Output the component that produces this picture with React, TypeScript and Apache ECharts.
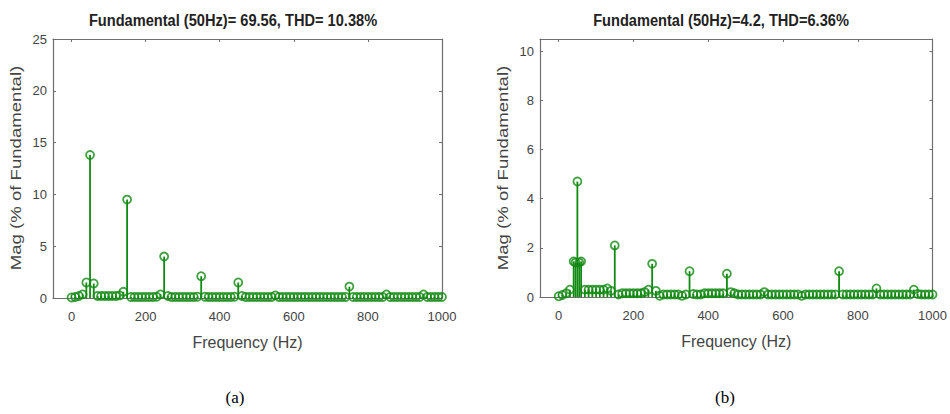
import React, { useEffect, useRef } from "react";
import * as echarts from "echarts";

const FREQ_A = [
  0, 10, 20, 30, 40, 50, 60, 70, 80, 90,
  100, 110, 120, 130, 140, 150, 160, 170, 180, 190,
  200, 210, 220, 230, 240, 250, 260, 270, 280, 290,
  300, 310, 320, 330, 340, 350, 360, 370, 380, 390,
  400, 410, 420, 430, 440, 450, 460, 470, 480, 490,
  500, 510, 520, 530, 540, 550, 560, 570, 580, 590,
  600, 610, 620, 630, 640, 650, 660, 670, 680, 690,
  700, 710, 720, 730, 740, 750, 760, 770, 780, 790,
  800, 810, 820, 830, 840, 850, 860, 870, 880, 890,
  900, 910, 920, 930, 940, 950, 960, 970, 980, 990, 1000,
];
const MAG_A = [
  0.05, 0.1, 0.2, 0.35, 1.5, 13.8, 1.4, 0.2, 0.2, 0.2,
  0.2, 0.2, 0.2, 0.25, 0.6, 9.5, 0.1, 0.1, 0.1, 0.1,
  0.1, 0.1, 0.1, 0.12, 0.35, 4.0, 0.2, 0.1, 0.1, 0.1,
  0.1, 0.1, 0.1, 0.1, 0.12, 2.1, 0.12, 0.1, 0.1, 0.1,
  0.1, 0.1, 0.1, 0.1, 0.12, 1.5, 0.2, 0.1, 0.1, 0.1,
  0.1, 0.1, 0.1, 0.1, 0.1, 0.25, 0.1, 0.1, 0.1, 0.1,
  0.1, 0.1, 0.1, 0.1, 0.1, 0.1, 0.1, 0.1, 0.1, 0.1,
  0.1, 0.1, 0.1, 0.1, 0.1, 1.1, 0.1, 0.1, 0.1, 0.1,
  0.1, 0.1, 0.1, 0.1, 0.1, 0.35, 0.1, 0.1, 0.1, 0.1,
  0.1, 0.1, 0.1, 0.1, 0.1, 0.35, 0.1, 0.1, 0.1, 0.1, 0.1,
];

const FREQ_B = [
  0, 10, 20, 30, 40, 45, 50, 55, 60, 70, 80, 90,
  100, 110, 120, 130, 140, 150, 160, 170, 180, 190,
  200, 210, 220, 230, 240, 250, 260, 270, 280, 290,
  300, 310, 320, 330, 340, 350, 360, 370, 380, 390,
  400, 410, 420, 430, 440, 450, 460, 470, 480, 490,
  500, 510, 520, 530, 540, 550, 560, 570, 580, 590,
  600, 610, 620, 630, 640, 650, 660, 670, 680, 690,
  700, 710, 720, 730, 740, 750, 760, 770, 780, 790,
  800, 810, 820, 830, 840, 850, 860, 870, 880, 890,
  900, 910, 920, 930, 940, 950, 960, 970, 980, 990, 1000,
];
const MAG_B = [
  0.03, 0.08, 0.15, 0.3, 1.45, 1.4, 4.7, 1.4, 1.45, 0.3, 0.3, 0.3,
  0.3, 0.3, 0.3, 0.35, 0.25, 2.1, 0.1, 0.15, 0.15, 0.15,
  0.15, 0.15, 0.15, 0.2, 0.3, 1.35, 0.25, 0.05, 0.1, 0.1,
  0.1, 0.1, 0.1, 0.05, 0.1, 1.05, 0.12, 0.1, 0.1, 0.15,
  0.15, 0.15, 0.15, 0.15, 0.15, 0.95, 0.2, 0.15, 0.1, 0.1,
  0.1, 0.1, 0.1, 0.1, 0.1, 0.2, 0.1, 0.1, 0.1, 0.1,
  0.1, 0.1, 0.1, 0.1, 0.1, 0.05, 0.1, 0.1, 0.1, 0.1,
  0.1, 0.1, 0.1, 0.1, 0.1, 1.05, 0.1, 0.1, 0.1, 0.1,
  0.1, 0.1, 0.1, 0.1, 0.1, 0.35, 0.1, 0.1, 0.1, 0.1,
  0.1, 0.1, 0.1, 0.1, 0.1, 0.3, 0.12, 0.1, 0.1, 0.1, 0.1,
];

const X_TICKS = [0, 200, 400, 600, 800, 1000];
const Y_TICKS_A = [0, 5, 10, 15, 20, 25];
const Y_TICKS_B = [0, 2, 4, 6, 8, 10];

const TITLE_A = "Fundamental (50Hz)= 69.56, THD= 10.38%";
const TITLE_B = "Fundamental (50Hz)=4.2, THD=6.36%";
const X_NAME = "Frequency (Hz)";
const Y_NAME = "Mag (% of Fundamental)";
const PANEL_A = "(a)";
const PANEL_B = "(b)";

const GREEN = "#118a11";
const AXIS_GRAY = "#6e6e6e";
const TEXT_GRAY = "#444";

export default function App() {
  const ref = useRef<HTMLDivElement>(null);
  useEffect(() => {
    document.body.style.margin = "0";
    const chart = echarts.init(ref.current!, null, { renderer: "svg" });

    const fmt = (v: number) => String(v);

    const xMain = (grid: number) => ({
      type: "value",
      gridIndex: grid,
      min: -50,
      max: 1000,
      position: "bottom",
      name: X_NAME,
      nameLocation: "middle",
      nameGap: 36,
      nameTextStyle: { fontFamily: "Liberation Sans", fontSize: 16, color: TEXT_GRAY },
      axisLine: { show: true, onZero: false, lineStyle: { color: AXIS_GRAY, width: 1.2 } },
      axisTick: { show: true, inside: true, length: 3, customValues: X_TICKS, lineStyle: { color: AXIS_GRAY } },
      axisLabel: { customValues: X_TICKS, formatter: fmt, margin: 12, fontFamily: "Liberation Sans", fontSize: 13, color: TEXT_GRAY },
      splitLine: { show: false },
    });
    const xTop = (grid: number) => ({
      type: "value",
      gridIndex: grid,
      min: -50,
      max: 1000,
      position: "top",
      axisLine: { show: true, onZero: false, lineStyle: { color: AXIS_GRAY, width: 1.2 } },
      axisTick: { show: true, inside: true, length: 3, customValues: X_TICKS, lineStyle: { color: AXIS_GRAY } },
      axisLabel: { show: false },
      splitLine: { show: false },
    });
    const yMain = (grid: number, max: number, ticks: number[]) => ({
      type: "value",
      gridIndex: grid,
      min: 0,
      max,
      position: "left",
      axisLine: { show: true, onZero: false, lineStyle: { color: AXIS_GRAY, width: 1.2 } },
      axisTick: { show: true, inside: true, length: 3, customValues: ticks, lineStyle: { color: AXIS_GRAY } },
      axisLabel: { customValues: ticks, formatter: fmt, margin: 6, fontFamily: "Liberation Sans", fontSize: 13, color: TEXT_GRAY },
      splitLine: { show: false },
    });
    const yRight = (grid: number, max: number, ticks: number[]) => ({
      type: "value",
      gridIndex: grid,
      min: 0,
      max,
      position: "right",
      axisLine: { show: true, onZero: false, lineStyle: { color: AXIS_GRAY, width: 1.2 } },
      axisTick: { show: true, inside: true, length: 3, customValues: ticks, lineStyle: { color: AXIS_GRAY } },
      axisLabel: { show: false },
      splitLine: { show: false },
    });

    const stemSeries = (xi: number, yi: number, freqs: number[], mags: number[]) => ({
      type: "custom",
      xAxisIndex: xi,
      yAxisIndex: yi,
      encode: { x: 0, y: 1 },
      data: freqs.map((f, i) => [f, mags[i]]),
      renderItem: (_params: any, api: any) => {
        const x = api.value(0);
        const y = api.value(1);
        const p0 = api.coord([x, 0]);
        const p1 = api.coord([x, y]);
        return {
          type: "line",
          shape: { x1: p0[0], y1: p0[1], x2: p1[0], y2: p1[1] },
          style: { stroke: GREEN, lineWidth: 1.8 },
        };
      },
      z: 2,
    });
    const markerSeries = (xi: number, yi: number, freqs: number[], mags: number[]) => ({
      type: "scatter",
      xAxisIndex: xi,
      yAxisIndex: yi,
      data: freqs.map((f, i) => [f, mags[i]]),
      symbol: "circle",
      symbolSize: 8,
      itemStyle: { color: "rgba(0,0,0,0)", borderColor: GREEN, borderWidth: 1.8 },
      z: 3,
    });

    const titleStyle = {
      fontFamily: "Liberation Sans",
      fontWeight: "bold",
      fontSize: 17,
      fill: "#222",
      align: "center",
      verticalAlign: "middle",
    };
    const yNameStyle = {
      fontFamily: "Liberation Sans",
      fontSize: 15,
      fill: TEXT_GRAY,
      align: "center",
      verticalAlign: "middle",
    };

    chart.setOption({
      animation: false,
      backgroundColor: "#fff",
      grid: [
        { left: 53, top: 39, width: 389, height: 259, containLabel: false },
        { left: 540, top: 39, width: 396, height: 258, containLabel: false },
      ],
      xAxis: [xMain(0), xTop(0), xMain(1), xTop(1)],
      yAxis: [yMain(0, 25, Y_TICKS_A), yRight(0, 25, Y_TICKS_A), yMain(1, 10.5, Y_TICKS_B), yRight(1, 10.5, Y_TICKS_B)],
      series: [
        stemSeries(0, 0, FREQ_A, MAG_A),
        markerSeries(0, 0, FREQ_A, MAG_A),
        stemSeries(2, 2, FREQ_B, MAG_B),
        markerSeries(2, 2, FREQ_B, MAG_B),
      ],
      graphic: [
        { type: "text", x: 233, y: 20, scaleX: 0.86, style: { ...titleStyle, text: TITLE_A } },
        { type: "text", x: 721, y: 20, scaleX: 0.86, style: { ...titleStyle, text: TITLE_B } },
        { type: "text", x: 16, y: 168, rotation: Math.PI / 2, scaleX: 1.24, style: { ...yNameStyle, text: Y_NAME } },
        { type: "text", x: 503, y: 168, rotation: Math.PI / 2, scaleX: 1.24, style: { ...yNameStyle, text: Y_NAME } },
        {
          type: "text",
          x: 235,
          y: 397,
          style: { text: PANEL_A, fontFamily: "Liberation Serif", fontSize: 17, fill: "#000", align: "center", verticalAlign: "middle" },
        },
        {
          type: "text",
          x: 725,
          y: 397,
          style: { text: PANEL_B, fontFamily: "Liberation Serif", fontSize: 17, fill: "#000", align: "center", verticalAlign: "middle" },
        },
      ],
    });
    return () => chart.dispose();
  }, []);
  return <div ref={ref} style={{ width: 950, height: 414 }} />;
}
